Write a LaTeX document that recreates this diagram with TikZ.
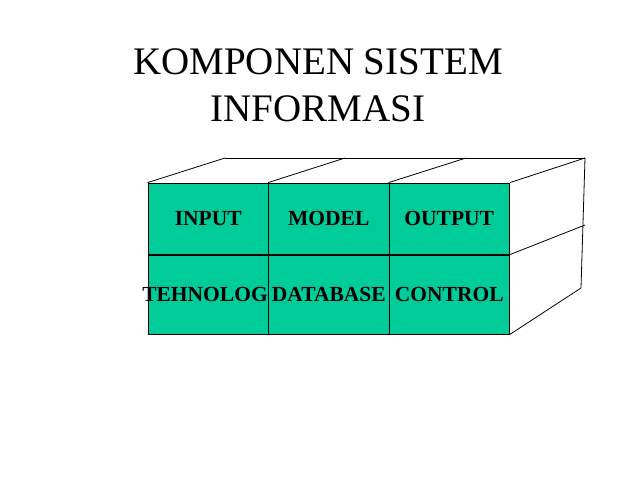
\documentclass[tikz,border=0pt]{standalone}
\usepackage{fontspec}
\setmainfont{Liberation Serif}
\definecolor{cellgreen}{HTML}{00CC99}

\begin{document}
\begin{tikzpicture}[x=1pt,y=-1pt,line width=0.8pt,
    cell/.style={draw,fill=cellgreen,rectangle,inner sep=0pt,minimum width=120.5pt,font=\fontsize{21.5}{22}\bfseries\selectfont},
    toprow/.style={cell,minimum height=71pt},
    botrow/.style={cell,minimum height=79pt}]
            \useasboundingbox (0,0) rectangle (638,479);
            % title
            \node[anchor=base,font=\fontsize{39}{46}\selectfont] at (318,74) (tia) {KOMPONEN SISTEM};
            \node[anchor=base,font=\fontsize{39}{46}\selectfont] at (318,121) (tib) {INFORMASI};
            % front face
            \node[toprow] at (208.25,218.5) (in) {INPUT};
            \node[toprow] at (328.75,218.5) (mo) {MODEL};
            \node[toprow] at (449.25,218.5) (ou) {OUTPUT};
            \node[botrow] at (208.25,294.5) (te) {\makebox[0pt]{\hspace{-6.5pt}TEHNOLOG}};
            \node[botrow] at (328.75,294.5) (da) {DATABASE};
            \node[botrow] at (449.25,294.5) (co) {CONTROL};
            % back corners
            \coordinate (b1) at (225,158);
            \coordinate (b2) at (345,158);
            \coordinate (b3) at (466,158);
            \coordinate (b4) at (585,158);
            \coordinate (bm) at (585,225);
            \coordinate (bb) at (581,288);
            % top and side faces
            \draw (in.north west) to (b1);
            \draw (mo.north west) to (b2);
            \draw (ou.north west) to (b3);
            \draw (ou.north east) to (b4);
            \draw (b1) to (b4);
            \draw (b4) to (bb);
            \draw (co.south east) to (bb);
            \draw (co.north east) to (bm);
        \end{tikzpicture}
\end{document}
